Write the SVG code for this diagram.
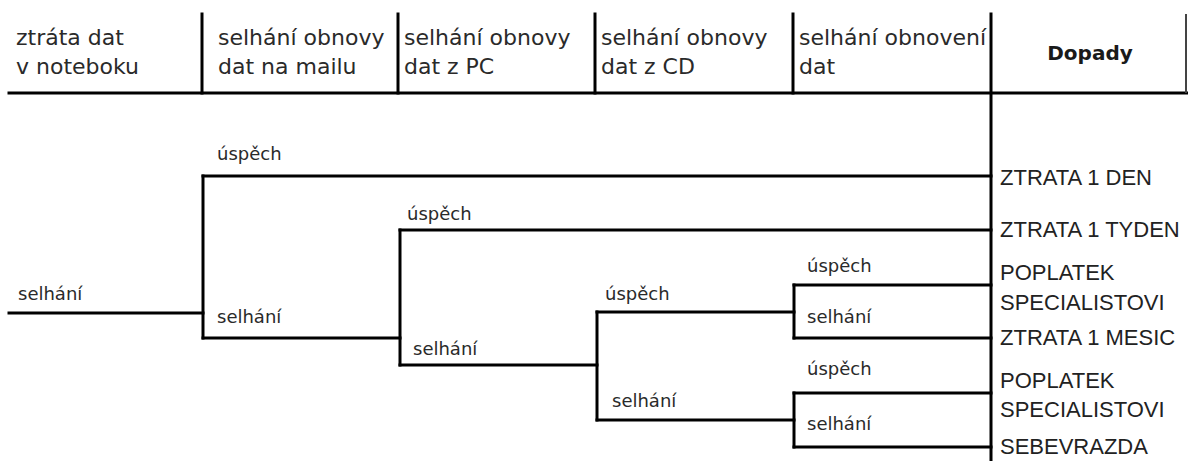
<svg xmlns="http://www.w3.org/2000/svg" width="1188" height="461" viewBox="0 0 1188 461">
  <style>
    .hdr { font-family: "DejaVu Sans", Verdana, sans-serif; font-size: 22px; fill: #2a2a2a; }
    .hdrb { font-family: "DejaVu Sans", Verdana, sans-serif; font-size: 20px; font-weight: bold; fill: #1a1a1a; }
    .lbl { font-family: "DejaVu Sans", Verdana, sans-serif; font-size: 18px; fill: #2a2a2a; }
    .out { font-family: "Liberation Sans", Arial, sans-serif; font-size: 22px; fill: #222; }
    .ln { stroke: #000; stroke-width: 3; fill: none; stroke-linecap: square; }
    .thin { stroke: #444; stroke-width: 2; fill: none; }
  </style>
  <rect width="1188" height="461" fill="#fff"/>

  <g id="header-grid">
    <line class="ln" x1="9" y1="93" x2="1188" y2="93"/>
    <line class="ln" x1="202" y1="14" x2="202" y2="93"/>
    <line class="ln" x1="398" y1="14" x2="398" y2="93"/>
    <line class="ln" x1="595" y1="14" x2="595" y2="93"/>
    <line class="ln" x1="793" y1="14" x2="793" y2="93"/>
    <line class="ln" x1="991" y1="14" x2="991" y2="461"/>
    <line class="thin" x1="1186" y1="14" x2="1186" y2="93"/>
  </g>

  <g id="col-1"><text class="hdr" x="16" y="45">ztráta dat</text><text class="hdr" x="16" y="74">v noteboku</text></g>
  <g id="col-2"><text class="hdr" x="218" y="45">selhání obnovy</text><text class="hdr" x="218" y="74">dat na mailu</text></g>
  <g id="col-3"><text class="hdr" x="404" y="45">selhání obnovy</text><text class="hdr" x="404" y="74">dat z PC</text></g>
  <g id="col-4"><text class="hdr" x="601" y="45">selhání obnovy</text><text class="hdr" x="601" y="74">dat z CD</text></g>
  <g id="col-5"><text class="hdr" x="799" y="45">selhání obnovení</text><text class="hdr" x="799" y="74">dat</text></g>
  <g id="col-dopady"><text class="hdrb" x="1090" y="60" text-anchor="middle">Dopady</text></g>

  <g id="connectors">
    <line class="ln" x1="9" y1="313" x2="203" y2="313"/>
    <line class="ln" x1="203" y1="176" x2="203" y2="338"/>
    <line class="ln" x1="203" y1="176" x2="991" y2="176"/>
    <line class="ln" x1="203" y1="338" x2="400" y2="338"/>
    <line class="ln" x1="400" y1="230" x2="400" y2="365"/>
    <line class="ln" x1="400" y1="230" x2="991" y2="230"/>
    <line class="ln" x1="400" y1="365" x2="597" y2="365"/>
    <line class="ln" x1="597" y1="312" x2="597" y2="420"/>
    <line class="ln" x1="597" y1="312" x2="794" y2="312"/>
    <line class="ln" x1="597" y1="420" x2="794" y2="420"/>
    <line class="ln" x1="794" y1="285" x2="794" y2="338"/>
    <line class="ln" x1="794" y1="285" x2="991" y2="285"/>
    <line class="ln" x1="794" y1="338" x2="991" y2="338"/>
    <line class="ln" x1="794" y1="393" x2="794" y2="447"/>
    <line class="ln" x1="794" y1="393" x2="991" y2="393"/>
    <line class="ln" x1="794" y1="447" x2="991" y2="447"/>
  </g>

  <g id="branch-labels">
    <text class="lbl" x="18" y="300">selhání</text>
    <text class="lbl" x="217" y="160">úspěch</text>
    <text class="lbl" x="217" y="323">selhání</text>
    <text class="lbl" x="407" y="220">úspěch</text>
    <text class="lbl" x="413" y="355">selhání</text>
    <text class="lbl" x="605" y="300">úspěch</text>
    <text class="lbl" x="612" y="407">selhání</text>
    <text class="lbl" x="807" y="272">úspěch</text>
    <text class="lbl" x="807" y="323">selhání</text>
    <text class="lbl" x="807" y="375">úspěch</text>
    <text class="lbl" x="807" y="430">selhání</text>
  </g>

  <g id="out-1"><text class="out" x="1000" y="185">ZTRATA 1 DEN</text></g>
  <g id="out-2"><text class="out" x="1000" y="237">ZTRATA 1 TYDEN</text></g>
  <g id="out-3"><text class="out" x="1000" y="280">POPLATEK</text><text class="out" x="1000" y="310">SPECIALISTOVI</text></g>
  <g id="out-4"><text class="out" x="1000" y="345">ZTRATA 1 MESIC</text></g>
  <g id="out-5"><text class="out" x="1000" y="388">POPLATEK</text><text class="out" x="1000" y="417">SPECIALISTOVI</text></g>
  <g id="out-6"><text class="out" x="1000" y="454">SEBEVRAZDA</text></g>
</svg>
